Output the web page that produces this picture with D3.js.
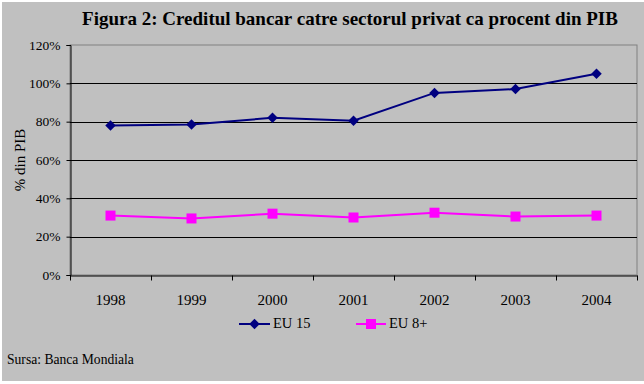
<!DOCTYPE html>
<html>
<head>
<meta charset="utf-8">
<script src="https://cdn.jsdelivr.net/npm/d3@7"></script>
<style>
  body { margin: 0; background: #fff; }
</style>
</head>
<body>
<div id="chart"></div>
<script>
// data
const years = ["1998", "1999", "2000", "2001", "2002", "2003", "2004"];
const eu15 = [78, 78.5, 82, 80.5, 95, 97, 105];
const eu8 = [31, 29.5, 32, 30, 32.5, 30.5, 31];
const yTicks = [0, 20, 40, 60, 80, 100, 120];

const W = 644, H = 384;
const mLeft = 70, mRight = 637, mTop = 45, mBottom = 275;
const serif = '"Liberation Serif", "Times New Roman", serif';

const svg = d3.select('#chart').append('svg')
    .attr('width', W)
    .attr('height', H)
    .attr('font-family', serif);

// gray page background
svg.append('rect')
    .attr('x', 2).attr('y', 2)
    .attr('width', 642).attr('height', 379)
    .attr('fill', '#c0c0c0');

const x = d3.scaleBand().domain(years).range([mLeft, mRight]);
const y = d3.scaleLinear().domain([0, 120]).range([mBottom, mTop]);

// title
svg.append('text')
    .attr('x', 350).attr('y', 25)
    .attr('text-anchor', 'middle')
    .style('font-family', serif)
    .style('font-size', '19px')
    .style('font-weight', 'bold')
    .text('Figura 2: Creditul bancar catre sectorul privat ca procent din PIB');

// plot border
svg.append('rect')
    .attr('x', mLeft).attr('y', mTop)
    .attr('width', mRight - mLeft).attr('height', mBottom - mTop)
    .attr('fill', 'none')
    .attr('stroke', '#808080');

// gridlines
svg.append('g').selectAll('line')
    .data(yTicks.filter(d => d > 0 && d < 120))
    .join('line')
    .attr('x1', mLeft).attr('x2', mRight)
    .attr('y1', d => Math.round(y(d)) + 0.5)
    .attr('y2', d => Math.round(y(d)) + 0.5)
    .attr('stroke', '#000');

// y axis
const yAxis = svg.append('g')
    .attr('transform', `translate(${mLeft + 0.5},0)`)
    .call(d3.axisLeft(y).tickValues(yTicks).tickSize(4).tickPadding(6)
        .tickFormat(d => d + '%'));
yAxis.attr('font-family', serif);
yAxis.select('.domain').attr('stroke', '#000');
yAxis.selectAll('text').style('font-family', serif).style('font-size', '13.5px').attr('fill', '#000');

// x axis
const xAxis = svg.append('g')
    .attr('transform', `translate(0,${mBottom + 0.5})`)
    .call(d3.axisBottom(x).tickSize(0).tickPadding(19));
xAxis.attr('font-family', serif);
xAxis.select('.domain').attr('stroke', '#000');
xAxis.selectAll('text').style('font-family', serif).style('font-size', '15px').attr('fill', '#000');
xAxis.selectAll('.sep')
    .data(years.concat(['end']))
    .join('line')
    .attr('class', 'sep')
    .attr('x1', (d, i) => Math.round(mLeft + i * x.bandwidth()) + 0.5)
    .attr('x2', (d, i) => Math.round(mLeft + i * x.bandwidth()) + 0.5)
    .attr('y1', 0).attr('y2', 5)
    .attr('stroke', '#000');

// y label
svg.append('text')
    .attr('transform', 'translate(25,160) rotate(-90)')
    .attr('text-anchor', 'middle')
    .style('font-family', serif)
    .style('font-size', '15px')
    .text('% din PIB');

const cx = d => x(d) + x.bandwidth() / 2;
const line = d3.line().x((d, i) => cx(years[i])).y(d => y(d));

const diamond = d3.symbol().type(d3.symbolDiamond2).size(70);

// EU 15
svg.append('path')
    .datum(eu15)
    .attr('d', line)
    .attr('fill', 'none')
    .attr('stroke', '#000080')
    .attr('stroke-width', 2);
svg.append('g').selectAll('path')
    .data(eu15)
    .join('path')
    .attr('transform', (d, i) => `translate(${cx(years[i])},${y(d)})`)
    .attr('d', diamond)
    .attr('fill', '#000080');

// EU 8+
svg.append('path')
    .datum(eu8)
    .attr('d', line)
    .attr('fill', 'none')
    .attr('stroke', '#ff00ff')
    .attr('stroke-width', 2);
svg.append('g').selectAll('rect')
    .data(eu8)
    .join('rect')
    .attr('x', (d, i) => cx(years[i]) - 5)
    .attr('y', d => y(d) - 5)
    .attr('width', 10).attr('height', 10)
    .attr('fill', '#ff00ff');

// legend
const leg = svg.append('g').attr('transform', 'translate(0,328)');
leg.append('line').attr('x1', 239).attr('x2', 270).attr('y1', -4).attr('y2', -4)
    .attr('stroke', '#000080').attr('stroke-width', 2);
leg.append('path').attr('transform', 'translate(254.5,-4)').attr('d', diamond).attr('fill', '#000080');
leg.append('text').attr('x', 273).attr('y', 0)
    .style('font-family', serif).style('font-size', '14.5px').text('EU 15');

leg.append('line').attr('x1', 356).attr('x2', 386).attr('y1', -4).attr('y2', -4)
    .attr('stroke', '#ff00ff').attr('stroke-width', 2);
leg.append('rect').attr('x', 366).attr('y', -9).attr('width', 10).attr('height', 10).attr('fill', '#ff00ff');
leg.append('text').attr('x', 389).attr('y', 0)
    .style('font-family', serif).style('font-size', '14.5px').text('EU 8+');

// source
svg.append('text')
    .attr('x', 7).attr('y', 364)
    .style('font-family', serif)
    .style('font-size', '13.6px')
    .text('Sursa: Banca Mondiala');
</script>
</body>
</html>
